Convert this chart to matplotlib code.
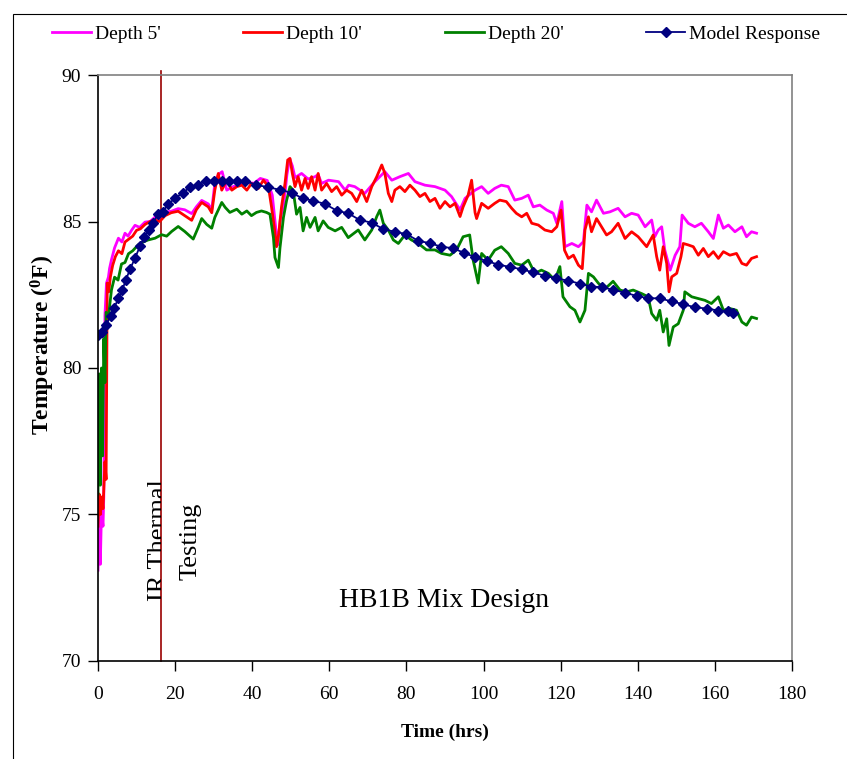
import matplotlib
matplotlib.use("Agg")
import matplotlib.pyplot as plt
from matplotlib.transforms import Bbox, TransformedBbox
from matplotlib.patches import Rectangle

plt.rcParams['font.family'] = ['Liberation Serif', 'DejaVu Serif']
plt.rcParams['mathtext.fontset'] = 'custom'
plt.rcParams['mathtext.rm'] = 'Liberation Serif'
plt.rcParams['mathtext.bf'] = 'Liberation Serif:bold'

# ---------------- data (time in hrs, temperature in F) ----------------
depth5 = [(0.0, 73.1), (0.3, 75.0), (0.6, 73.3), (0.9, 75.1), (1.3, 74.6), (1.5, 75.6), (1.8, 81.8), (2.2, 82.9),
          (2.7, 83.1), (3.0, 83.4), (3.5, 83.7), (4.3, 84.1), (5.3, 84.43), (6.2, 84.3), (7.0, 84.6), (7.8, 84.5),
          (8.7, 84.7), (9.6, 84.87), (10.8, 84.8), (12.2, 84.98), (13.5, 85.0), (14.8, 85.15), (16.0, 85.1),
          (17.4, 85.32), (19.0, 85.35), (20.8, 85.44), (22.5, 85.4), (24.3, 85.27), (25.5, 85.5), (26.9, 85.72),
          (28.6, 85.6), (29.5, 85.4), (30.3, 86.3), (31.2, 86.6), (32.2, 86.7), (33.4, 86.07), (35.2, 86.2),
          (36.9, 86.25), (38.7, 86.35), (40.4, 86.3), (42.1, 86.47), (43.9, 86.4), (45.2, 85.9), (46.0, 84.9),
          (46.6, 84.2), (47.3, 85.1), (48.2, 85.6), (49.0, 86.6), (49.7, 87.15), (50.4, 86.9), (51.1, 86.5),
          (52.8, 86.64), (54.5, 86.45), (56.3, 86.53), (57.1, 86.6), (58.0, 86.3), (59.8, 86.41), (62.4, 86.36),
          (64.1, 86.07), (65.0, 86.24), (66.6, 86.19), (69.2, 85.96), (71.8, 86.36), (74.4, 86.7), (76.2, 86.41),
          (78.3, 86.53), (80.5, 86.64), (82.2, 86.36), (84.8, 86.24), (87.4, 86.19), (90.0, 86.07), (91.7, 85.85),
          (93.9, 85.4), (95.2, 85.79), (97.8, 86.07), (99.5, 86.19), (101.2, 85.96), (102.9, 86.13), (104.6, 86.24),
          (106.4, 86.19), (108.1, 85.73), (109.9, 85.79), (111.6, 85.9), (112.9, 85.5), (114.6, 85.56),
          (116.4, 85.39), (118.1, 85.28), (119.0, 84.94), (120.3, 85.68), (121.1, 84.14), (122.9, 84.25),
          (124.6, 84.14), (125.9, 84.31), (126.8, 85.56), (128.0, 85.33), (129.3, 85.73), (131.1, 85.28),
          (132.8, 85.33), (134.9, 85.45), (136.7, 85.16), (138.4, 85.28), (140.1, 85.22), (141.9, 84.82),
          (143.6, 85.05), (144.4, 84.48), (145.3, 84.71), (146.2, 84.82), (147.0, 84.03), (148.4, 83.34),
          (149.7, 83.85), (150.9, 84.14), (151.5, 85.22), (153.1, 84.94), (154.8, 84.82), (156.5, 84.94),
          (158.3, 84.65), (159.6, 84.42), (160.9, 85.22), (162.2, 84.77), (163.5, 84.88), (165.2, 84.65),
          (167.0, 84.82), (168.2, 84.48), (169.5, 84.65), (170.8, 84.6)]

depth10 = [(0.0, 74.6), (0.3, 75.7), (0.6, 75.0), (1.0, 75.6), (1.3, 75.2), (1.8, 76.8), (2.1, 76.2), (2.4, 82.9),
           (2.8, 82.6), (3.2, 83.1), (3.8, 83.5), (4.5, 83.8), (5.3, 84.0), (6.2, 83.9), (7.0, 84.3), (8.0, 84.4),
           (9.0, 84.5), (10.0, 84.7), (11.0, 84.75), (12.2, 84.9), (13.5, 85.0), (14.8, 85.05), (16.0, 85.0),
           (17.4, 85.2), (19.0, 85.3), (20.8, 85.35), (22.5, 85.2), (24.3, 85.04), (25.5, 85.4), (26.9, 85.65),
           (28.6, 85.5), (29.5, 85.3), (30.3, 86.07), (31.2, 86.64), (32.1, 86.07), (33.4, 86.41), (34.7, 86.07),
           (36.0, 86.19), (37.3, 86.24), (38.6, 86.07), (39.8, 86.3), (41.6, 86.13), (42.9, 86.41), (44.2, 86.19),
           (45.0, 85.5), (45.7, 84.82), (46.3, 84.14), (46.9, 84.6), (47.6, 85.5), (48.5, 86.3), (49.2, 87.1),
           (49.8, 87.15), (50.4, 86.64), (51.1, 86.19), (51.9, 86.53), (52.8, 86.07), (53.7, 86.47), (54.5, 86.13),
           (55.4, 86.53), (56.3, 86.07), (57.1, 86.64), (58.0, 86.07), (59.3, 86.3), (60.6, 86.02), (61.9, 86.19),
           (63.2, 85.9), (64.5, 86.07), (65.8, 85.96), (67.1, 85.68), (68.4, 86.07), (69.7, 85.68), (71.0, 86.19),
           (72.3, 86.53), (73.6, 86.93), (74.4, 86.64), (75.3, 85.96), (76.2, 85.68), (77.0, 86.07), (78.3, 86.19),
           (79.6, 86.02), (80.9, 86.24), (82.2, 86.07), (83.5, 85.85), (84.8, 85.96), (86.1, 85.68), (87.4, 85.79),
           (88.7, 85.45), (90.0, 85.68), (91.3, 85.5), (92.6, 85.62), (93.9, 85.17), (94.7, 85.5), (96.0, 85.9),
           (96.9, 86.41), (97.8, 85.3), (98.2, 85.1), (99.5, 85.62), (101.2, 85.45), (102.9, 85.62), (104.2, 85.73),
           (105.9, 85.68), (107.3, 85.45), (108.5, 85.28), (109.9, 85.16), (111.2, 85.28), (112.5, 84.94),
           (114.2, 84.88), (115.9, 84.71), (117.7, 84.65), (119.0, 84.82), (120.1, 85.39), (121.0, 84.02),
           (122.0, 83.74), (123.3, 83.85), (124.6, 83.51), (125.6, 83.39), (126.3, 84.71), (127.2, 85.16),
           (128.0, 84.65), (129.3, 85.1), (130.6, 84.82), (131.9, 84.54), (133.2, 84.65), (134.9, 84.94),
           (136.7, 84.42), (138.4, 84.65), (140.1, 84.48), (142.3, 84.14), (144.0, 84.54), (144.9, 83.8),
           (145.7, 83.34), (146.6, 84.14), (147.5, 83.57), (148.1, 82.6), (148.8, 83.11), (150.1, 83.23),
           (151.2, 83.8), (151.8, 84.25), (153.1, 84.2), (154.4, 84.14), (155.7, 83.85), (157.0, 84.08),
           (158.3, 83.8), (159.6, 83.97), (160.9, 83.74), (162.2, 83.97), (163.9, 83.85), (165.6, 83.91),
           (167.0, 83.57), (168.2, 83.51), (169.5, 83.74), (170.8, 83.8)]

depth20 = [(0.0, 75.7), (0.3, 79.8), (0.6, 76.0), (0.9, 80.0), (1.2, 77.0), (1.5, 81.0), (1.8, 79.5), (2.1, 81.9),
           (2.7, 81.75), (3.5, 82.67), (4.3, 83.1), (5.2, 83.0), (6.1, 83.55), (7.0, 83.6), (7.9, 83.9), (9.0, 84.0),
           (10.4, 84.2), (11.7, 84.3), (13.0, 84.37), (14.8, 84.43), (16.5, 84.55), (17.8, 84.5), (19.1, 84.66),
           (20.8, 84.83), (22.5, 84.66), (24.7, 84.4), (26.0, 84.8), (26.9, 85.1), (28.2, 84.9), (29.5, 84.77),
           (30.3, 85.14), (32.1, 85.65), (33.0, 85.48), (34.2, 85.31), (36.0, 85.42), (37.3, 85.25), (38.6, 85.36),
           (39.8, 85.2), (41.1, 85.31), (42.4, 85.36), (43.7, 85.31), (44.6, 85.25), (45.5, 84.45), (45.9, 83.77),
           (46.8, 83.43), (47.2, 84.1), (48.1, 85.14), (48.9, 85.71), (49.8, 86.19), (50.6, 86.07), (51.5, 85.25),
           (52.4, 85.48), (53.2, 84.68), (54.1, 85.14), (55.0, 84.8), (56.3, 85.14), (57.1, 84.68), (58.4, 85.02),
           (59.7, 84.8), (61.5, 84.68), (63.2, 84.8), (64.9, 84.45), (65.8, 84.54), (67.5, 84.71), (69.2, 84.37),
           (71.0, 84.71), (72.3, 85.17), (73.1, 85.39), (74.0, 84.94), (75.3, 84.71), (76.6, 84.37), (77.9, 84.25),
           (79.6, 84.54), (81.3, 84.37), (83.1, 84.25), (85.2, 84.03), (87.4, 84.03), (89.1, 83.91), (91.3, 83.85),
           (93.0, 84.03), (94.7, 84.48), (96.4, 84.54), (97.3, 83.68), (98.6, 82.9), (99.5, 83.91), (101.2, 83.68),
           (102.9, 84.02), (104.6, 84.14), (106.4, 83.91), (108.1, 83.57), (109.9, 83.51), (111.6, 83.68),
           (113.3, 83.23), (115.0, 83.34), (116.8, 83.23), (118.5, 83.0), (119.8, 83.46), (120.6, 82.43),
           (122.4, 82.09), (123.7, 81.97), (125.0, 81.57), (126.3, 81.97), (127.2, 83.23), (128.5, 83.11),
           (129.8, 82.89), (131.5, 82.7), (133.6, 82.96), (135.4, 82.66), (137.1, 82.6), (138.8, 82.66),
           (141.0, 82.54), (142.7, 82.43), (143.6, 81.86), (144.9, 81.63), (145.7, 81.97), (146.6, 81.23),
           (147.5, 81.68), (148.1, 80.77), (149.2, 81.4), (150.5, 81.51), (151.8, 81.97), (152.2, 82.6),
           (154.0, 82.43), (155.7, 82.37), (157.4, 82.31), (159.1, 82.2), (160.9, 82.43), (162.2, 81.97),
           (163.9, 82.03), (165.6, 81.97), (167.0, 81.57), (168.2, 81.46), (169.5, 81.74), (170.8, 81.69)]

model_t = [0.1, 0.95, 2.1, 3.3, 4.15, 5.3, 6.3, 7.2, 8.3, 9.6, 10.9, 12.0, 13.1, 14.3, 15.6, 16.8, 18.2, 20.0,
           22.0, 23.9, 26.0, 28.0, 30.1, 32.1, 34.0, 36.0, 38.1, 41.0, 44.2, 47.2, 50.2, 53.1, 55.8, 58.9, 61.9,
           64.9, 67.9, 71.0, 74.0, 77.0, 80.0, 83.1, 86.1, 89.0, 92.0, 94.8, 97.8, 100.8, 103.8, 106.8, 109.9,
           112.9, 115.9, 118.9, 121.9, 125.0, 127.8, 130.6, 133.6, 136.7, 139.7, 142.7, 145.7, 148.8, 151.8,
           154.8, 157.9, 160.9, 163.5, 164.6]
model_v = [81.13, 81.24, 81.47, 81.77, 82.04, 82.38, 82.66, 83.0, 83.37, 83.75, 84.16, 84.48, 84.71, 84.96,
           85.26, 85.33, 85.6, 85.79, 85.98, 86.17, 86.25, 86.39, 86.39, 86.39, 86.39, 86.39, 86.39, 86.25, 86.17,
           86.08, 85.98, 85.79, 85.71, 85.6, 85.37, 85.28, 85.05, 84.96, 84.74, 84.65, 84.57, 84.34, 84.26,
           84.14, 84.09, 83.94, 83.78, 83.65, 83.53, 83.45, 83.37, 83.26, 83.15, 83.06, 82.98, 82.88, 82.78,
           82.76, 82.67, 82.57, 82.46, 82.38, 82.38, 82.27, 82.18, 82.07, 82.03, 81.96, 81.93, 81.89]

ir_time = 16.3
x_ticks = [0, 20, 40, 60, 80, 100, 120, 140, 160, 180]
y_ticks = [70, 75, 80, 85, 90]

d5_t, d5_v = zip(*depth5)
d10_t, d10_v = zip(*depth10)
d20_t, d20_v = zip(*depth20)

# ---------------- figure ----------------
W, H = 847, 759
fig = plt.figure(figsize=(W / 100, H / 100), dpi=100)
ax = fig.add_axes([98 / W, 1 - 661 / H, (792 - 98) / W, (661 - 75) / H])

# outer frame
fig.add_artist(Rectangle((13 / W, -0.1), 1.2, 1.1 - 14 / H, transform=fig.transFigure,
                         fill=False, edgecolor='black', linewidth=0.8))

l5, = ax.plot(d5_t, d5_v, color='#FF00FF', lw=2.0, label="Depth 5'")
l10, = ax.plot(d10_t, d10_v, color='#FF0000', lw=2.0, label="Depth 10'")
l20, = ax.plot(d20_t, d20_v, color='#008000', lw=2.0, label="Depth 20'")
lm, = ax.plot(model_t, model_v, color='#000080', lw=1.3, marker='D', markersize=5.5,
              label='Model Response')

ax.plot([ir_time, ir_time], [70, 90.12], color='#990000', lw=1.2, clip_on=False, zorder=1)

ax.set_xlim(0, 180)
ax.set_ylim(70, 90)
ax.set_xticks(x_ticks)
ax.set_yticks(y_ticks)
ax.tick_params(axis='both', direction='out', length=7, width=1, labelsize=14)
ax.tick_params(axis='y', pad=5)
ax.tick_params(axis='x', pad=11)
for s in ['top', 'right']:
    ax.spines[s].set_color('#808080')
    ax.spines[s].set_linewidth(1.2)
for s in ['left', 'bottom']:
    ax.spines[s].set_color('black')
    ax.spines[s].set_linewidth(1.2)

ax.set_xlabel('Time (hrs)', fontsize=14, fontweight='bold')
ax.xaxis.set_label_coords(0.5, -0.107)
ax.set_ylabel(r'Temperature ($\mathbf{^{0}}$F)', fontsize=17, fontweight='bold')
ax.yaxis.set_label_coords(-0.059, 0.540)

t_ir = ax.text(15.7, 74.13, 'IR Thermal', rotation=90, fontsize=19, ha='center', va='center')
t_ir.set_clip_on(True)
t_ir.set_clip_path(None)
t_ir.set_clip_box(TransformedBbox(Bbox([[0, 70], [ir_time, 90]]), ax.transData))
ax.text(23.9, 74.1, 'Testing', rotation=90, fontsize=19, ha='center', va='center')
ax.text(89.7, 72.08, 'HB1B Mix Design', fontsize=20, ha='center', va='center')

fig.legend(handles=[l5, l10, l20, lm], loc='center left', ncol=4, mode='expand',
           bbox_to_anchor=(52 / W, 1 - 34 / H, (820 - 52) / W, 0.0001), frameon=False,
           fontsize=14, handlelength=2.0, handletextpad=0.2, borderpad=0, borderaxespad=0,
           numpoints=1)

fig.savefig('out.png', dpi=100)
